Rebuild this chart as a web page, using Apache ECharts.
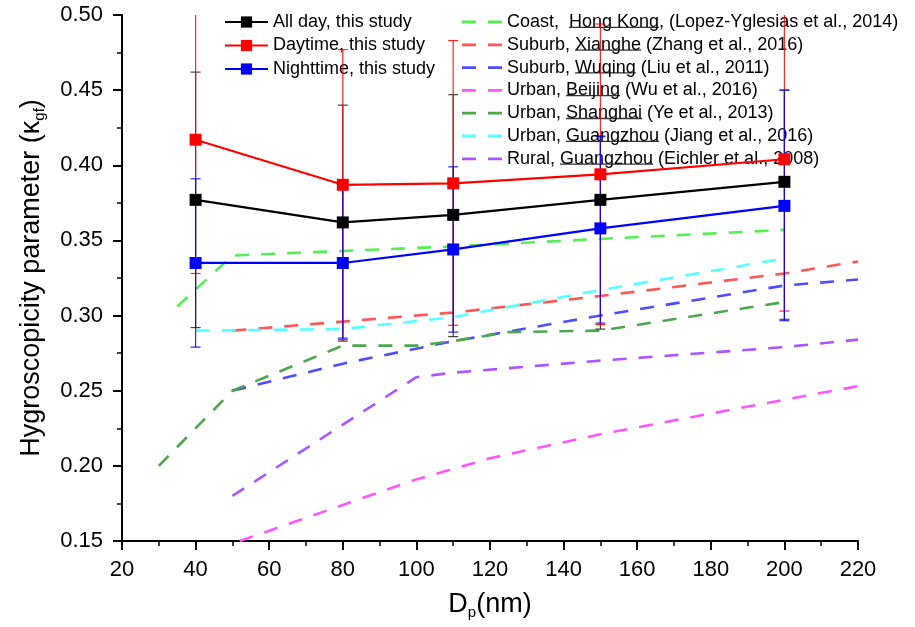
<!DOCTYPE html>
<html><head><meta charset="utf-8">
<script src="https://cdn.jsdelivr.net/npm/echarts@6/dist/echarts.min.js"></script>
<style>html,body{margin:0;padding:0;background:#fff}#c{width:915px;height:627px}</style>
</head><body><div id="c"></div>
<script>
// ---- data ----
const studyX = [40, 80, 110, 150, 200];
const allDay = [0.377, 0.362, 0.367, 0.377, 0.389];
const allDayLow = [0.292, 0.283, 0.286, 0.291, 0.2975];
const allDayHigh = [0.462, 0.440, 0.447, 0.419, 0.450];
const daytime = [0.417, 0.387, 0.388, 0.394, 0.404];
const dayLow = [0.328, 0.284, 0.2935, 0.294, 0.303];
const dayHigh = [0.505, 0.477, 0.483, 0.494, 0.505];
const nighttime = [0.335, 0.335, 0.344, 0.358, 0.373];
const nightLow = [0.279, 0.285, 0.289, 0.295, 0.2966];
const nightHigh = [0.391, 0.386, 0.399, 0.4195, 0.450];

const hkX = [35, 50, 80, 110, 150, 200];
const hkY = [0.306, 0.340, 0.343, 0.346, 0.351, 0.357];
const xiangheX = [50, 80, 110, 150, 200, 220];
const xiangheY = [0.290, 0.296, 0.302, 0.313, 0.328, 0.336];
const wuqingX = [50, 80, 110, 150, 200, 220];
const wuqingY = [0.250, 0.268, 0.283, 0.300, 0.320, 0.324];
const beijingX = [52, 80, 100, 120, 150, 200, 220];
const beijingY = [0.150, 0.174, 0.191, 0.205, 0.221, 0.244, 0.253];
const shanghaiX = [30, 50, 80, 100, 110, 125, 150, 200];
const shanghaiY = [0.200, 0.250, 0.280, 0.280, 0.283, 0.289, 0.290, 0.309];
const gzJiangX = [40, 80, 110, 150, 200];
const gzJiangY = [0.290, 0.291, 0.299, 0.317, 0.338];
const gzRuralX = [50, 100, 110, 150, 200, 220];
const gzRuralY = [0.180, 0.259, 0.262, 0.270, 0.279, 0.284];

const yTicks = ['0.15','0.20','0.25','0.30','0.35','0.40','0.45','0.50'];
const xTicks = [20, 40, 60, 80, 100, 120, 140, 160, 180, 200, 220];

const studyNames = ['All day, this study', 'Daytime, this study', 'Nighttime, this study'];
const litNames = [
  'Coast,  Hong Kong, (Lopez-Yglesias et al., 2014)',
  'Suburb, Xianghe (Zhang et al., 2016)',
  'Suburb, Wuqing (Liu et al., 2011)',
  'Urban, Beijing (Wu et al., 2016)',
  'Urban, Shanghai (Ye et al., 2013)',
  'Urban, Guangzhou (Jiang et al., 2016)',
  'Rural, Guangzhou (Eichler et al., 2008)'
];
const litUnderline = ['Hong Kong', 'Xianghe', 'Wuqing', 'Beijing', 'Shanghai', 'Guangzhou', 'Guangzhou'];

// ---- build ----
const FONT = 'Arial';
function pairs(xs, ys) { return xs.map((x, i) => [x, ys[i]]); }
function triples(xs, lo, hi) { return xs.map((x, i) => [x, lo[i], hi[i]]); }

const litColors = ['#55ee55', '#ff5555', '#4d4dff', '#ff55ff', '#4ca64c', '#55ffff', '#aa55ff'];
const litX = [hkX, xiangheX, wuqingX, beijingX, shanghaiX, gzJiangX, gzRuralX];
const litY = [hkY, xiangheY, wuqingY, beijingY, shanghaiY, gzJiangY, gzRuralY];
// dashed legend icon: two dashes, box 40x14
const dashIcon = 'path://M0,0L0.01,0L0,0.01Z M0,5.6H14V8.4H0Z M26,5.6H40V8.4H26Z M40,14L39.99,14L40,13.99Z';

const series = [];
litNames.forEach((n, i) => {
  series.push({
    name: n, type: 'line', data: pairs(litX[i], litY[i]), symbol: 'none', z: 2,
    lineStyle: { color: litColors[i], width: 2.6, type: [14, 12], cap: 'butt' },
    itemStyle: { color: litColors[i] }, silent: true, animation: false
  });
});

function errSeries(color, data, z) {
  return {
    type: 'custom', data: data, z: z, silent: true, animation: false, clip: true,
    renderItem: function (params, api) {
      const x = api.value(0);
      const p1 = api.coord([x, api.value(1)]);
      const p2 = api.coord([x, api.value(2)]);
      const hw = 5;
      const st = { stroke: color, lineWidth: 1.2, opacity: 0.85 };
      return { type: 'group', children: [
        { type: 'line', shape: { x1: p1[0], y1: p1[1], x2: p2[0], y2: p2[1] }, style: st },
        { type: 'line', shape: { x1: p1[0] - hw, y1: p1[1], x2: p1[0] + hw, y2: p1[1] }, style: st },
        { type: 'line', shape: { x1: p2[0] - hw, y1: p2[1], x2: p2[0] + hw, y2: p2[1] }, style: st }
      ]};
    }
  };
}
series.push(errSeries('#222222', triples(studyX, allDayLow, allDayHigh), 5));
series.push(errSeries('#ff0000', triples(studyX, dayLow, dayHigh), 6));
series.push(errSeries('#0000ff', triples(studyX, nightLow, nightHigh), 7));

const studyColors = ['#000000', '#ff0000', '#0000ff'];
const studyY = [allDay, daytime, nighttime];
studyNames.forEach((n, i) => {
  series.push({
    name: n, type: 'line', data: pairs(studyX, studyY[i]), symbol: 'rect', symbolSize: 12, z: 10,
    lineStyle: { color: studyColors[i], width: 2.2 }, itemStyle: { color: studyColors[i] },
    silent: true, animation: false
  });
});

const LEG_TOP = 8;
const chart = echarts.init(document.getElementById('c'), null, { renderer: 'canvas' });
const option = {
  animation: false,
  backgroundColor: '#ffffff',
  textStyle: { fontFamily: FONT },
  grid: { left: 122, right: 57, top: 15, bottom: 86, containLabel: false },
  legend: [
    { data: studyNames, orient: 'vertical', left: 219, top: LEG_TOP, itemWidth: 43, itemHeight: 14, itemGap: 5.5,
      textStyle: { fontSize: 18, lineHeight: 18, color: '#000', fontFamily: FONT }, selectedMode: false },
    { data: litNames.map(n => ({ name: n, icon: dashIcon })), orient: 'vertical', left: 457, top: LEG_TOP,
      itemWidth: 40, itemHeight: 14, itemGap: 4.8,
      textStyle: { fontSize: 18, lineHeight: 18, color: '#000', fontFamily: FONT }, selectedMode: false }
  ],
  xAxis: {
    type: 'value', min: 20, max: 220, interval: 20,
    name: 'D{sub|p}(nm)', nameLocation: 'middle', nameGap: 49,
    nameTextStyle: { fontSize: 27, lineHeight: 30, color: '#000', fontFamily: FONT, verticalAlign: 'top',
      rich: { sub: { fontSize: 15, lineHeight: 15, verticalAlign: 'bottom', color: '#000', fontFamily: FONT } } },
    axisLine: { show: true, onZero: false, lineStyle: { color: '#000', width: 2 } },
    axisTick: { show: true, inside: false, length: 9, lineStyle: { color: '#000', width: 2 } },
    minorTick: { show: true, splitNumber: 2, length: 5, lineStyle: { color: '#000', width: 1.5 } },
    axisLabel: { fontSize: 22, color: '#000', margin: 18, fontFamily: FONT,
      formatter: v => (xTicks.indexOf(v) >= 0 ? String(v) : '') },
    splitLine: { show: false }
  },
  yAxis: {
    type: 'value', min: 0.15, max: 0.50, interval: 0.05,
    name: 'Hygroscopicity parameter (κ{sub|gf})', nameLocation: 'middle', nameGap: 75, nameRotate: 90,
    nameTextStyle: { fontSize: 27, lineHeight: 30, color: '#000', fontFamily: FONT,
      rich: { sub: { fontSize: 15, lineHeight: 15, verticalAlign: 'bottom', color: '#000', fontFamily: FONT } } },
    axisLine: { show: true, onZero: false, lineStyle: { color: '#000', width: 2 } },
    axisTick: { show: true, inside: false, length: 9, lineStyle: { color: '#000', width: 2 } },
    minorTick: { show: true, splitNumber: 2, length: 5, lineStyle: { color: '#000', width: 1.5 } },
    axisLabel: { fontSize: 22, color: '#000', margin: 19, fontFamily: FONT,
      formatter: v => { const s = v.toFixed(2); return yTicks.indexOf(s) >= 0 ? s : ''; } },
    splitLine: { show: false }
  },
  series: series
};
chart.setOption(option);

// underlines for the place names in the literature legend
(function () {
  const ctx = document.createElement('canvas').getContext('2d');
  ctx.font = '18px ' + FONT;
  const textLeft = 457 + 5 + 40 + 5;
  const children = [];
  litNames.forEach((n, i) => {
    const idx = n.indexOf(litUnderline[i]);
    const x0 = textLeft + ctx.measureText(n.slice(0, idx)).width;
    const w = ctx.measureText(litUnderline[i]).width;
    const uy = LEG_TOP + 12 + 7.3 + i * 22.8;
    children.push({ type: 'line', shape: { x1: x0, y1: uy, x2: x0 + w, y2: uy },
      style: { stroke: '#333', lineWidth: 1.3 }, silent: true });
  });
  chart.setOption({ graphic: [{ type: 'group', children: children }] });
})();
</script></body></html>
